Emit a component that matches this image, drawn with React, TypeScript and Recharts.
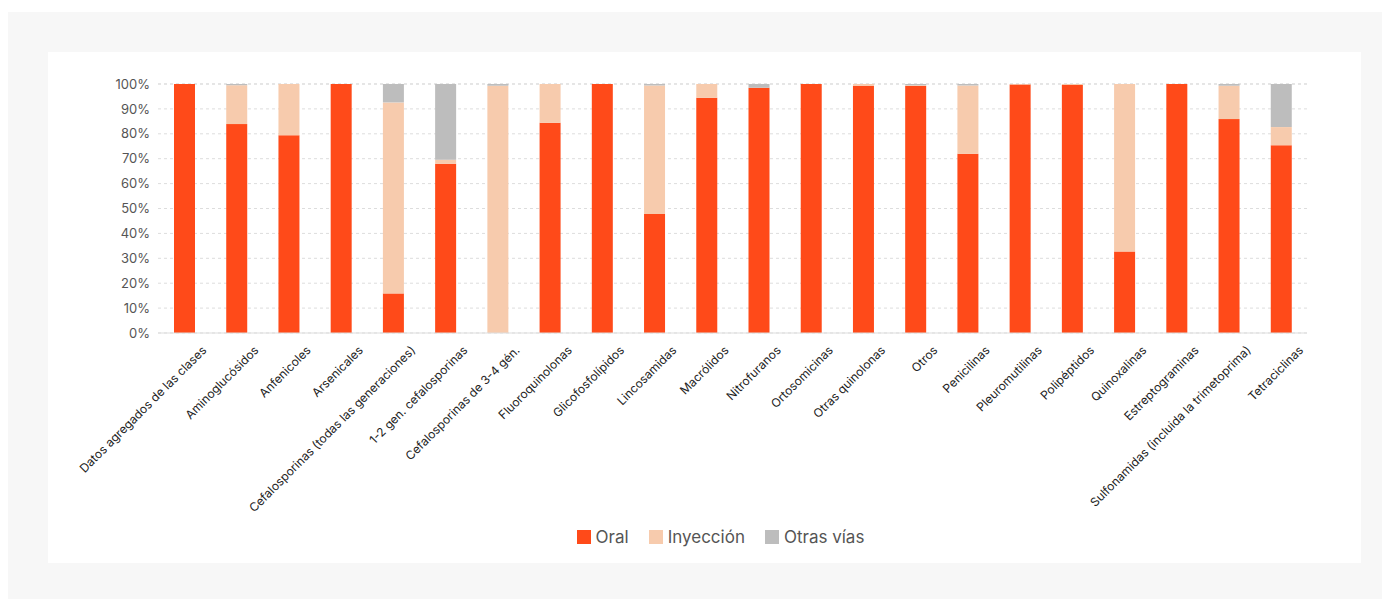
import { BarChart, Bar, XAxis, YAxis, CartesianGrid, Legend } from "recharts";

const categories = [
  "Datos agregados de las clases",
  "Aminoglucósidos",
  "Anfenicoles",
  "Arsenicales",
  "Cefalosporinas (todas las generaciones)",
  "1-2 gen. cefalosporinas",
  "Cefalosporinas de 3-4 gén.",
  "Fluoroquinolonas",
  "Glicofosfolípidos",
  "Lincosamidas",
  "Macrólidos",
  "Nitrofuranos",
  "Ortosomicinas",
  "Otras quinolonas",
  "Otros",
  "Penicilinas",
  "Pleuromutilinas",
  "Polipéptidos",
  "Quinoxalinas",
  "Estreptograminas",
  "Sulfonamidas (incluida la trimetoprima)",
  "Tetraciclinas",
];

const oral = [100, 83.9, 79.4, 100, 15.9, 68, 0, 84.4, 100, 47.8, 94.5, 98.5, 100, 99.3, 99.2, 72, 99.8, 99.6, 32.7, 100, 85.9, 75.4];
const inyeccion = [0, 15.6, 20.6, 0, 76.7, 1.6, 99.3, 15.6, 0, 51.6, 5.5, 0, 0, 0.7, 0.3, 27.4, 0.2, 0.4, 67.3, 0, 13.4, 7.3];
const otras = [0, 0.5, 0, 0, 7.4, 30.4, 0.7, 0, 0, 0.6, 0, 1.5, 0, 0, 0.5, 0.6, 0, 0, 0, 0, 0.7, 17.3];

const yTicks = [0, 10, 20, 30, 40, 50, 60, 70, 80, 90, 100];

const series = [
  { key: "oral", name: "Oral", color: "#ff4a19" },
  { key: "inyeccion", name: "Inyección", color: "#f7cbad" },
  { key: "otras", name: "Otras vías", color: "#bdbdbd" },
];

const data = categories.map((name, i) => ({
  name,
  oral: oral[i],
  inyeccion: inyeccion[i],
  otras: otras[i],
}));

const FONT = "Inter, 'Noto Sans', sans-serif";

function XTick(props: any) {
  const { x, y, payload } = props;
  return (
    <g transform={`translate(${x + 23},${y + 10})`}>
      <text
        textAnchor="end"
        transform="rotate(-45)"
        fontSize={12}
        fill="#222"
        fontFamily={FONT}
      >
        {payload.value}
      </text>
    </g>
  );
}

function LegendBox() {
  return (
    <div
      style={{
        display: "flex",
        justifyContent: "center",
        gap: 20,
        paddingLeft: 36,
        fontFamily: FONT,
        fontSize: 17,
        color: "#555",
      }}
    >
      {series.map((s) => (
        <div key={s.key} style={{ display: "flex", alignItems: "center", gap: 5 }}>
          <span style={{ width: 14, height: 14, background: s.color, display: "inline-block" }} />
          <span>{s.name}</span>
        </div>
      ))}
    </div>
  );
}

export default function App() {
  return (
    <div style={{ background: "#f7f7f7", width: 1382, height: 600, marginTop: 4, paddingTop: 40, paddingLeft: 40, boxSizing: "border-box" }}>
      <div style={{ background: "#fff", width: 1313, height: 511 }}>
        <BarChart
          width={1313}
          height={511}
          data={data}
          margin={{ top: 32, right: 54, left: 50, bottom: 0 }}
          barSize={21}
        >
          <CartesianGrid vertical={false} stroke="#ddd" strokeDasharray="3 3" />
          <XAxis
            dataKey="name"
            interval={0}
            tickLine={false}
            axisLine={{ stroke: "#ddd" }}
            tick={<XTick />}
            height={210}
          />
          <YAxis
            domain={[0, 100]}
            ticks={yTicks}
            tickFormatter={(v: number) => `${v}%`}
            axisLine={false}
            tickLine={false}
            width={60}
            tick={{ fill: "#555", fontSize: 13, fontFamily: FONT }}
          />
          <Legend verticalAlign="bottom" content={<LegendBox />} wrapperStyle={{ bottom: 16 }} />
          {series.map((s) => (
            <Bar
              key={s.key}
              dataKey={s.key}
              name={s.name}
              stackId="a"
              fill={s.color}
              isAnimationActive={false}
            />
          ))}
        </BarChart>
      </div>
    </div>
  );
}
